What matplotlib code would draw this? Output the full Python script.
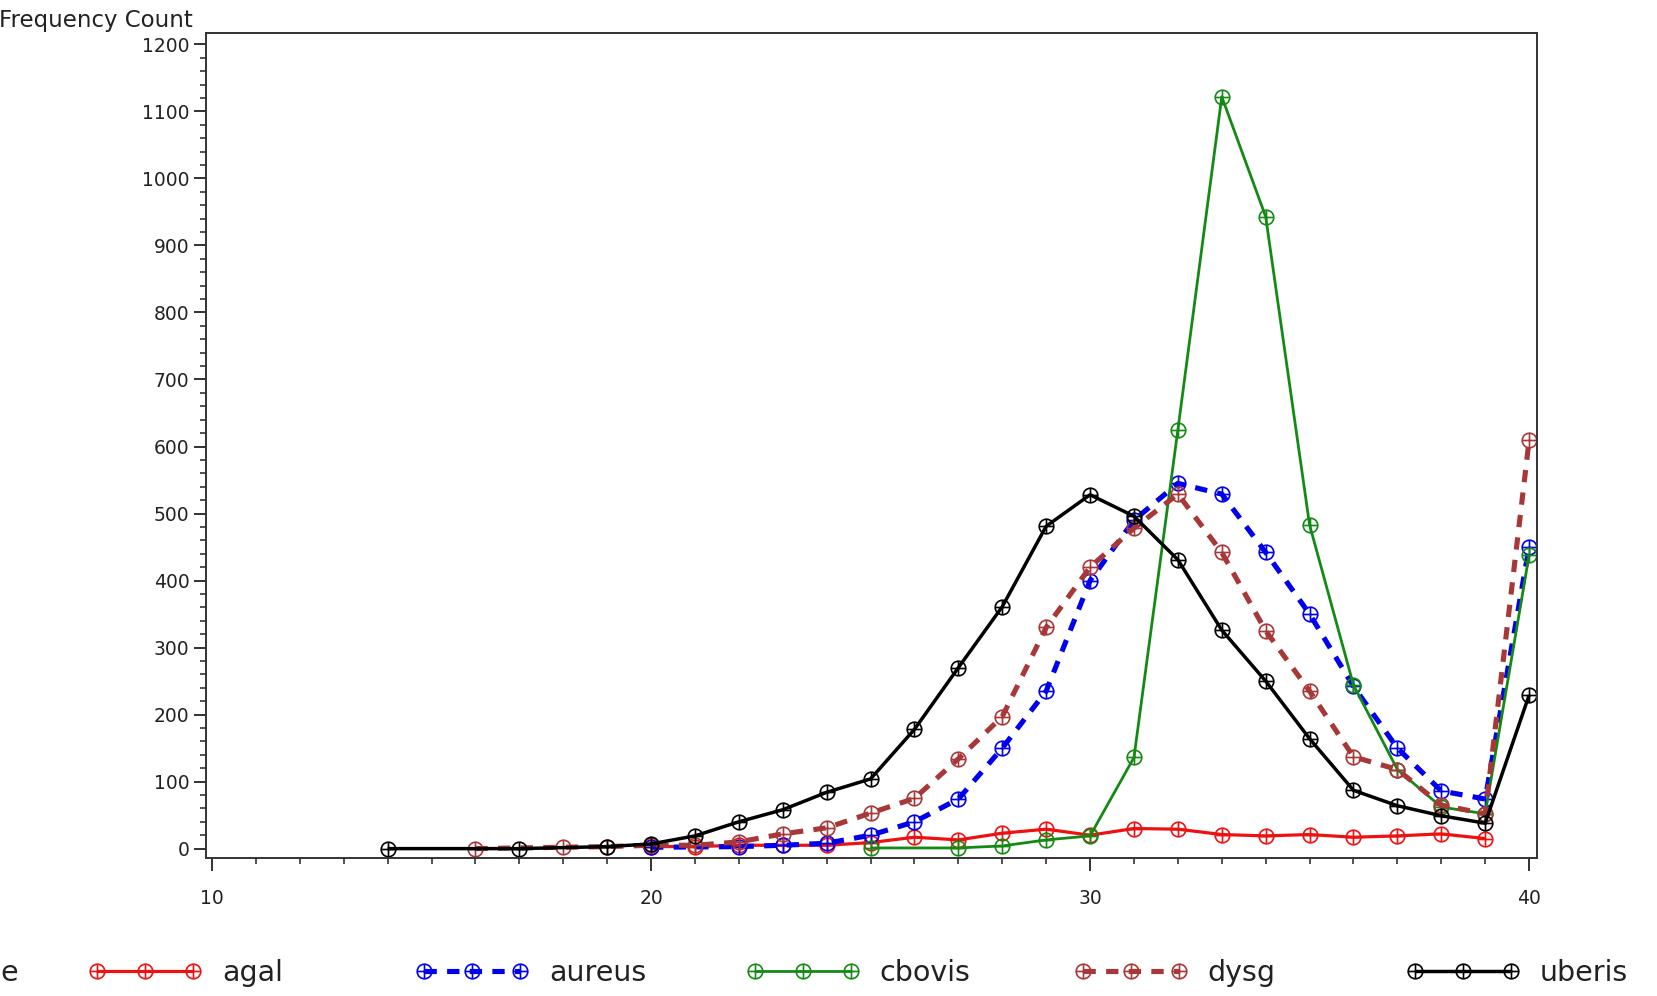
import matplotlib
matplotlib.use("Agg")
import matplotlib.pyplot as plt
from matplotlib.path import Path
from matplotlib.ticker import MultipleLocator

# ---------------- data ----------------
agal_x = [20, 21, 22, 23, 24, 25, 26, 27, 28, 29, 30, 31, 32, 33, 34, 35, 36, 37, 38, 39]
agal_y = [3, 3, 5, 5, 5, 9, 17, 13, 23, 29, 20, 30, 29, 21, 19, 21, 17, 19, 22, 15]

aureus_x = [20, 22, 23, 24, 25, 26, 27, 28, 29, 30, 31, 32, 33, 34, 35, 36, 37, 38, 39, 40]
aureus_y = [2, 3, 5, 8, 20, 40, 74, 150, 235, 400, 490, 545, 529, 442, 350, 242, 150, 86, 74, 450]

cbovis_x = [25, 27, 28, 29, 30, 31, 32, 33, 34, 35, 36, 37, 38, 39, 40]
cbovis_y = [1, 1, 4, 13, 19, 136, 625, 1122, 943, 483, 244, 118, 62, 52, 438]

dysg_x = [16, 18, 19, 20, 21, 22, 23, 24, 25, 26, 27, 28, 29, 30, 31, 32, 33, 34, 35, 36, 37, 38, 39, 40]
dysg_y = [0, 2, 3, 5, 5, 10, 22, 31, 53, 75, 134, 197, 330, 420, 478, 529, 442, 325, 235, 137, 118, 65, 52, 609]

uberis_x = [14, 17, 19, 20, 21, 22, 23, 24, 25, 26, 27, 28, 29, 30, 31, 32, 33, 34, 35, 36, 37, 38, 39, 40]
uberis_y = [0, 0, 3, 7, 19, 40, 58, 84, 104, 178, 270, 361, 481, 528, 496, 431, 326, 250, 164, 87, 64, 49, 38, 229]

series_names = ["agal", "aureus", "cbovis", "dysg", "uberis"]
x_ticks = [10, 20, 30, 40]
y_ticks = list(range(0, 1201, 100))
y_label = "Frequency Count"

# ---------------- styles ----------------
W, H = 1657, 996
fig = plt.figure(figsize=(W / 100, H / 100), dpi=100)
ax = fig.add_axes([206 / W, 1 - 858 / H, (1537 - 206) / W, (858 - 33) / H])

circ = Path.unit_circle()
plus = Path([(-1, 0), (1, 0), (0, -1), (0, 1)],
            [Path.MOVETO, Path.LINETO, Path.MOVETO, Path.LINETO])
cplus = Path.make_compound_path(circ, plus)

styles = {
    "agal":   dict(color="#ee1111", ls="-", lw=2.3),
    "aureus": dict(color="#0000ee", ls=(0, (2.4, 2.0)), lw=3.7),
    "cbovis": dict(color="#138a13", ls="-", lw=2.0),
    "dysg":   dict(color="#a83838", ls=(0, (2.4, 2.0)), lw=3.7),
    "uberis": dict(color="#000000", ls="-", lw=2.5),
}
data = {
    "agal": (agal_x, agal_y),
    "aureus": (aureus_x, aureus_y),
    "cbovis": (cbovis_x, cbovis_y),
    "dysg": (dysg_x, dysg_y),
    "uberis": (uberis_x, uberis_y),
}

lines = []
for name in series_names:
    xs, ys = data[name]
    st = styles[name]
    ln, = ax.plot(xs, ys, color=st["color"], linestyle=st["ls"], linewidth=st["lw"],
                  marker=cplus, markersize=10.5, markerfacecolor="none",
                  markeredgecolor=st["color"], markeredgewidth=1.2, label=name,
                  solid_capstyle="butt", dash_capstyle="butt")
    lines.append(ln)

ax.set_xlim(9.863, 40.18)
ax.set_ylim(-14, 1217)
ax.set_xticks(x_ticks)
ax.set_yticks(y_ticks)
ax.xaxis.set_minor_locator(MultipleLocator(1))
ax.yaxis.set_minor_locator(MultipleLocator(20))

font = ["DejaVu Sans"]
ax.tick_params(axis="both", which="major", direction="out", length=9, width=1.3,
               color="#222222", labelsize=13.5, labelcolor="#222222")
ax.tick_params(axis="both", which="minor", direction="out", length=4, width=1.1,
               color="#222222")
ax.tick_params(axis="x", which="major", pad=13)
ax.tick_params(axis="y", which="major", pad=3)
for lab in ax.get_xticklabels() + ax.get_yticklabels():
    lab.set_family(font)
for sp in ax.spines.values():
    sp.set_color("#333333")
    sp.set_linewidth(1.4)

fig.text(193 / W, 1 - 27 / H, y_label, ha="right", va="baseline",
         fontsize=16.5, family=font, color="#222222")

# legend: evenly spaced entries, as in the reference
leg_x = [88, 415, 746, 1074, 1406]
leg_y = 1 - 973 / H
for ln, xpx in zip(lines, leg_x):
    lg = fig.legend(handles=[ln], labels=[ln.get_label()], loc="center left",
                    bbox_to_anchor=(xpx / W, leg_y), frameon=False,
                    borderpad=0, borderaxespad=0, numpoints=3,
                    handlelength=4.0, handletextpad=0.7,
                    prop=dict(family=font, size=20.5))
    for t in lg.get_texts():
        t.set_color("#222222")
fig.text(0, leg_y, "e", ha="left", va="center", fontsize=20.5, family=font,
         color="#222222")

fig.savefig("out.png", dpi=100, facecolor="white")
